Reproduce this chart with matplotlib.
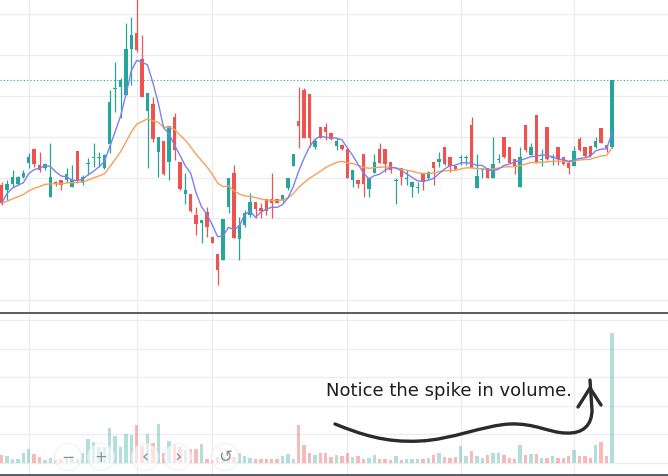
import matplotlib
matplotlib.use("Agg")
import matplotlib.pyplot as plt
from matplotlib.patches import Circle, PathPatch
from matplotlib.path import Path
import numpy as np
import pandas as pd

# OHLC values (price units), one entry per session
opens = [115, 110, 116, 116, 123, 137, 151, 135, 132, 103,
         118, 120, 120, 113, 149, 117, 136, 142, 142, 132,
         156, 211, 213, 205, 251, 267, 241, 189, 196, 148,
         159, 138, 183, 138, 106, 106, 85, 77, 88, 63,
         46, 40, 93, 127, 61, 75, 85, 98, 92, 101,
         101, 101, 100, 112, 134, 179, 210, 206, 153, 173,
         173, 167, 154, 155, 151, 120, 120, 146, 111, 127,
         151, 151, 138, 119, 132, 121, 113, 112, 126, 122,
         138, 138, 153, 143, 134, 142, 142, 175, 112, 130,
         132, 122, 140, 163, 153, 141, 113, 175, 145, 185,
         140, 173, 142, 153, 143, 137, 134, 161, 153, 154,
         153, 172, 155, 153]
highs = [118, 120, 130, 124, 130, 147, 152, 148, 137, 157,
         119, 120, 132, 135, 149, 125, 142, 157, 148, 146,
         210, 238, 222, 277, 283, 302, 265, 207, 203, 163,
         159, 174, 187, 138, 127, 106, 93, 80, 93, 63,
         46, 81, 122, 135, 83, 90, 107, 98, 97, 101,
         127, 101, 105, 122, 146, 213, 212, 206, 161, 173,
         177, 167, 162, 155, 151, 130, 120, 146, 122, 146,
         157, 151, 138, 122, 132, 130, 118, 118, 126, 129,
         138, 148, 153, 143, 134, 145, 145, 183, 146, 132,
         132, 163, 146, 163, 153, 141, 153, 175, 157, 185,
         151, 173, 146, 153, 143, 140, 154, 163, 153, 154,
         163, 172, 155, 220]
lows = [95, 100, 113, 115, 122, 132, 133, 128, 130, 103,
        114, 110, 118, 113, 117, 115, 125, 133, 133, 131,
        147, 188, 182, 205, 215, 248, 203, 132, 158, 123,
        125, 120, 140, 110, 96, 88, 65, 57, 63, 57,
        15, 40, 87, 62, 40, 73, 83, 82, 82, 85,
        82, 97, 98, 110, 134, 152, 162, 153, 151, 162,
        160, 160, 150, 150, 122, 113, 112, 103, 103, 127,
        137, 128, 127, 96, 115, 115, 103, 107, 110, 121,
        115, 133, 135, 128, 130, 135, 135, 132, 112, 122,
        122, 122, 137, 142, 137, 126, 113, 148, 145, 137,
        134, 140, 135, 135, 135, 126, 134, 149, 143, 143,
        152, 157, 148, 152]
closes = [97, 116, 123, 123, 127, 143, 136, 130, 136, 123,
          116, 115, 126, 120, 120, 123, 137, 143, 143, 145,
          198, 212, 220, 251, 265, 250, 203, 207, 161, 163,
          126, 174, 150, 111, 110, 89, 76, 80, 73, 57,
          30, 81, 122, 62, 75, 87, 98, 91, 89, 89,
          97, 97, 105, 122, 146, 174, 162, 162, 159, 162,
          168, 161, 159, 151, 122, 130, 116, 116, 122, 138,
          137, 136, 130, 120, 123, 122, 118, 113, 118, 128,
          132, 141, 136, 134, 131, 143, 143, 132, 124, 131,
          122, 136, 141, 143, 137, 134, 143, 150, 153, 138,
          141, 141, 143, 141, 136, 132, 149, 150, 144, 144,
          159, 157, 152, 220]
volumes = [8, 7, 4, 4, 10, 14, 9, 6, 3, 5,
           3, 4, 6, 7, 4, 10, 24, 21, 16, 16,
           35, 27, 16, 29, 28, 38, 17, 29, 20, 39,
           10, 22, 18, 16, 13, 14, 14, 19, 4, 3,
           6, 8, 6, 6, 10, 7, 5, 4, 4, 4,
           4, 4, 7, 9, 4, 38, 18, 10, 8, 10,
           10, 6, 8, 7, 10, 6, 7, 4, 5, 8,
           4, 4, 3, 7, 3, 4, 4, 4, 4, 5,
           8, 10, 6, 5, 6, 17, 7, 12, 7, 5,
           8, 10, 10, 8, 5, 4, 18, 8, 9, 9,
           5, 5, 7, 5, 5, 7, 13, 7, 7, 5,
           18, 21, 7, 130]
month_starts = [5, 25, 39, 64, 85, 106]
note = "Notice the spike in volume."

UP = "#26a69a"
DOWN = "#ef5350"

o = np.array(opens, float)
h = np.array(highs, float)
l = np.array(lows, float)
c = np.array(closes, float)
v = np.array(volumes, float)
x = np.arange(len(c))
up = c >= o
cols = np.where(up, UP, DOWN)

# 5-period simple MA and 20-period EMA, as on the chart
ma_fast = pd.Series(c).rolling(5, min_periods=1).mean()
ma_slow = pd.Series(c).ewm(span=20, adjust=False).mean()

W, H = 668, 476
fig = plt.figure(figsize=(W / 100, H / 100), dpi=100)
ax_p = fig.add_axes([0, 163 / H, 1, 313 / H])
ax_v = fig.add_axes([0, 1 / H, 1, 162 / H])

xlim = (-1.7 / 5.4, (W - 1.7) / 5.4)
for ax in (ax_p, ax_v):
    ax.set_xlim(*xlim)
    ax.set_xticks(month_starts)
    ax.grid(True, color="#e9ecf2", lw=0.9)
    ax.set_axisbelow(True)
    ax.tick_params(length=0, labelleft=False, labelbottom=False)
    for s in ax.spines.values():
        s.set_visible(False)

# price pane
ax_p.set_ylim(-13, 300)
ax_p.set_yticks(np.arange(0, 300, 40.8))
ax_p.vlines(x, l, h, colors=cols, lw=0.9, zorder=2)
body_lo = np.minimum(o, c)
body_h = np.maximum(np.abs(c - o), 0.8)
ax_p.bar(x, body_h, bottom=body_lo, width=0.62, color=cols, lw=0, zorder=3)
ax_p.plot(x, ma_slow, color="#f7a05a", lw=1.0, zorder=4)
ax_p.plot(x, ma_fast, color="#7f7ff0", lw=1.0, zorder=4)
ax_p.axhline(c[-1], color=UP, lw=0.8, ls=(0, (1, 2)), zorder=1)

# volume pane
ax_v.set_ylim(-12.5, 149.5)
ax_v.set_yticks(np.arange(0, 143, 28.5))
vcols = [(0.149, 0.651, 0.604, 0.35) if u else (0.937, 0.325, 0.314, 0.4) for u in up]
ax_v.bar(x, v, width=0.65, color=vcols, lw=0, zorder=2)

# pane separators
for yy in (163 / H, 1 / H):
    fig.add_artist(plt.Line2D([0, 1], [yy, yy], transform=fig.transFigure,
                              color="#4c4f57", lw=1.3))


def px(xp, yp):
    return (xp / 100, (H - yp) / 100)


# chart navigation buttons
for bx, sym, fs in [(68, "\u2212", 11), (101, "+", 11), (145, "\u2039", 13),
                    (178, "\u203a", 13), (225, "\u21ba", 12)]:
    fig.add_artist(Circle(px(bx, 457), 0.135, transform=fig.dpi_scale_trans,
                          facecolor="white", edgecolor="#e6e8ee", lw=0.8,
                          alpha=0.6, zorder=5))
    fig.text(bx / W, (H - 457) / H, sym, ha="center", va="center",
             fontsize=fs, color="#8a8d95", zorder=6)

# hand-drawn note and arrow
fig.text(326 / W, (H - 396) / H, note, ha="left", va="baseline",
         fontsize=13.0, color="#1e1e1e", family="DejaVu Sans")

pts = [(335, 424), (360, 434), (385, 443), (420, 441),
       (450, 440), (485, 425), (510, 424),
       (535, 423), (550, 433), (566, 433),
       (583, 434), (592, 425), (592, 410),
       (590, 380)]
codes = [Path.MOVETO] + [Path.CURVE4] * 12 + [Path.LINETO]
curve = Path([px(*p) for p in pts], codes)
fig.add_artist(PathPatch(curve, transform=fig.dpi_scale_trans, fill=False,
                         edgecolor="#2b2b2b", lw=2.4, capstyle="round",
                         joinstyle="round", zorder=7))
head = Path([px(578, 407), px(590, 388), px(601, 405)],
            [Path.MOVETO, Path.LINETO, Path.LINETO])
fig.add_artist(PathPatch(head, transform=fig.dpi_scale_trans, fill=False,
                         edgecolor="#2b2b2b", lw=2.4, capstyle="round",
                         joinstyle="round", zorder=7))

fig.savefig("out.png", dpi=100)
